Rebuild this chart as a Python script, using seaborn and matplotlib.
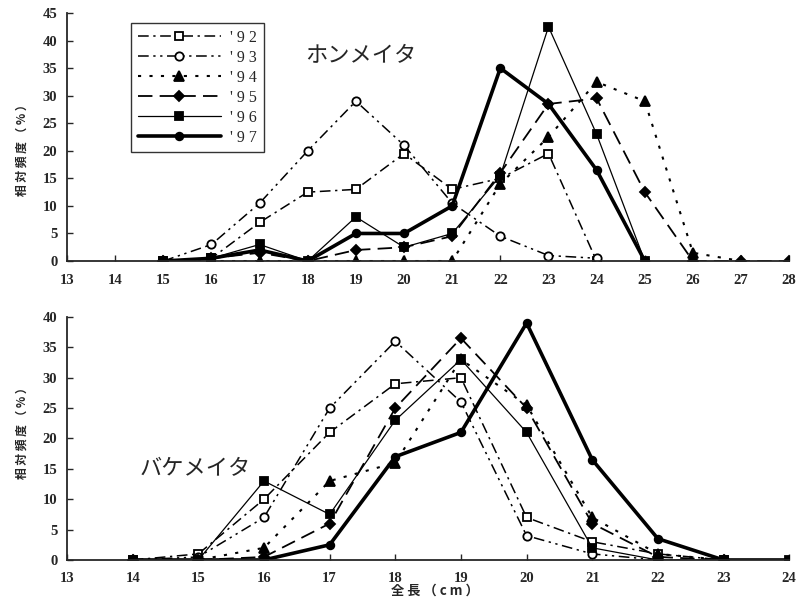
import matplotlib
matplotlib.use("Agg")
import matplotlib.pyplot as plt
import seaborn as sns
import pandas as pd
import numpy as np

# data
years = ["92", "93", "94", "95", "96", "97"]

x_hon = [15, 16, 17, 18, 19, 20, 21, 22, 23, 24, 25, 26, 27, 28]
hon_92 = [0, 0.5, 7, 12.5, 13, 19.5, 13, 15, 19.5, 0, np.nan, np.nan, np.nan, np.nan]
hon_93 = [0, 3, 10.5, 20, 29, 21, 10.5, 4.5, 1, 0.5, np.nan, np.nan, np.nan, np.nan]
hon_94 = [0, 0, 0, 0, 0, 0, 0, 14, 22.5, 32.5, 29, 1.5, 0, np.nan]
hon_95 = [0, 0.5, 1.5, 0, 2, 2.5, 4.5, 16, 28.5, 29.5, 12.5, 0, 0, 0]
hon_96 = [0, 0.5, 3, 0, 8, 2.5, 5, 15.5, 42.5, 23, 0, np.nan, np.nan, np.nan]
hon_97 = [0, 0.5, 2, 0, 5, 5, 10, 35, 28.5, 16.5, 0, np.nan, np.nan, np.nan]

x_bake = [14, 15, 16, 17, 18, 19, 20, 21, 22, 23, 24]
bake_92 = [0, 1, 10, 21, 29, 30, 7, 3, 1, 0, np.nan]
bake_93 = [0, 0.5, 7, 25, 36, 26, 4, 1, 0, 0, np.nan]
bake_94 = [0, 0, 2, 13, 16, 33, 25.5, 7, 1, 0, np.nan]
bake_95 = [0, 0, 0.5, 6, 25, 36.5, 25, 6, 0.5, 0, np.nan]
bake_96 = [0, 0, 13, 7.5, 23, 33, 21, 2, 0, 0, 0]
bake_97 = [0, 0, 0, 2.5, 17, 21, 39, 16.5, 3.5, 0, 0]

hon = [hon_92, hon_93, hon_94, hon_95, hon_96, hon_97]
bake = [bake_92, bake_93, bake_94, bake_95, bake_96, bake_97]

# line style per year
styles = {
    "92": dict(ls=(0, (7, 3, 1.5, 3)), lw=1.1, marker="s", mfc="white", ms=6),
    "93": dict(ls=(0, (7, 3, 1.5, 3, 1.5, 3)), lw=1.1, marker="o", mfc="white", ms=6),
    "94": dict(ls=(0, (1.5, 4)), lw=1.5, marker="^", mfc="black", ms=7),
    "95": dict(ls=(0, (8, 4)), lw=1.3, marker="D", mfc="black", ms=5),
    "96": dict(ls="-", lw=0.9, marker="s", mfc="black", ms=6),
    "97": dict(ls="-", lw=2.6, marker="o", mfc="black", ms=5.5),
}

sns.set_style("ticks")
plt.rcParams['font.family'] = ['Liberation Serif', 'Noto Sans CJK JP', 'DejaVu Sans']
jp = ['Noto Sans CJK JP', 'DejaVu Sans']

fig = plt.figure(figsize=(7.98, 6.02), dpi=100)
ax1 = fig.add_axes([0.084, 0.5664, 0.905, 0.412])
ax2 = fig.add_axes([0.084, 0.0698, 0.905, 0.4037])


def draw(ax, xs, series, label=True):
    for yr, ys in zip(years, series):
        df = pd.DataFrame({"x": xs, "y": ys}).dropna()
        st = styles[yr]
        sns.lineplot(data=df, x="x", y="y", ax=ax, color="black",
                     linestyle=st["ls"], linewidth=st["lw"], marker=st["marker"],
                     markerfacecolor=st["mfc"], markeredgecolor="black",
                     markersize=st["ms"], markeredgewidth=1.3,
                     label=("' 9 " + yr[1]) if label else None)


draw(ax1, x_hon, hon)
draw(ax2, x_bake, bake, label=False)

for ax, xmin, xmax, ymax in [(ax1, 13, 28, 45), (ax2, 13, 24, 40)]:
    ax.set_xlim(xmin, xmax)
    ax.set_ylim(0, ymax)
    ax.set_xticks(range(xmin, xmax + 1))
    ax.set_yticks(range(0, ymax + 1, 5))
    ax.tick_params(direction="in", length=4, width=1, labelsize=10.5, pad=9)
    for t in ax.get_xticklabels() + ax.get_yticklabels():
        t.set_fontweight("bold")
    ax.set_xlabel("")
    ax.set_ylabel("")
    sns.despine(ax=ax)
    ax.spines["left"].set_linewidth(1.3)
    ax.spines["bottom"].set_linewidth(1.3)

ax1.tick_params(axis="y", pad=7)
ax2.tick_params(axis="y", pad=7)

leg = ax1.legend(loc="upper left", bbox_to_anchor=(0.078, 0.99), handlelength=5.2,
                 fontsize=11.5, frameon=True, fancybox=False, edgecolor="black",
                 borderpad=0.4, labelspacing=0.25, handletextpad=0.6)
leg.get_frame().set_linewidth(1.0)

ax1.text(0.33, 0.83, "ホンメイタ", transform=ax1.transAxes, fontsize=16,
         family=jp, ha="left", va="center")
ax2.text(0.1, 0.375, "バケメイタ", transform=ax2.transAxes, fontsize=16,
         family=jp, ha="left", va="center")

ylab = "相 対 頻 度 （ % ）"
fig.text(0.028, 0.755, ylab, rotation=90, ha="center", va="center",
         fontsize=8.5, family=jp, fontweight="bold")
fig.text(0.028, 0.285, ylab, rotation=90, ha="center", va="center",
         fontsize=8.5, family=jp, fontweight="bold")
fig.text(0.545, 0.018, "全 長 （ c m ）", ha="center", va="center",
         fontsize=9.5, family=jp, fontweight="bold")

fig.savefig("out.png", dpi=100)
